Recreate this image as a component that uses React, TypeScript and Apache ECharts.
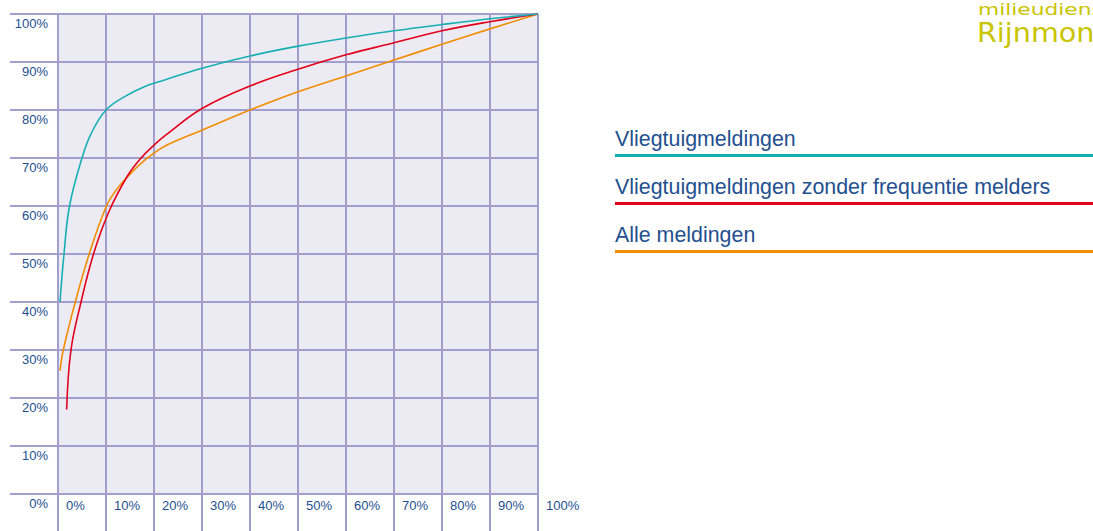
import React, { useEffect, useRef } from "react";
import * as echarts from "echarts";

const seriesNames = [
  "Vliegtuigmeldingen",
  "Vliegtuigmeldingen zonder frequentie melders",
  "Alle meldingen",
];
const seriesColors = ["#17b0b2", "#e3001b", "#f28c00"];

const vliegtuig: [number, number][] = [
  [0.42, 40], [1.25, 50], [2.4, 60], [5, 70], [6.9, 75.1], [10, 80],
  [13.9, 82.8], [18.1, 84.9], [22.2, 86.25], [30, 88.7], [40, 91.25],
  [50, 93.3], [60, 95], [70, 96.5], [80, 97.8], [90, 99], [100, 100],
];
const zonderFreq: [number, number][] = [
  [1.8, 17.6], [2.7, 30], [4.8, 40], [7.4, 50], [10.6, 58.8], [14.5, 66.3],
  [17.3, 70], [20, 72.7], [22.5, 74.8], [30, 80.3], [40, 85], [50, 88.5],
  [60, 91.5], [70, 94], [80, 96.5], [90, 98.4], [100, 100],
];
const alle: [number, number][] = [
  [0.42, 25.7], [1.1, 30], [3.6, 40], [6.5, 50], [10, 59.8], [12.1, 63.3],
  [14.5, 66.1], [17.3, 68.9], [20, 71], [22.5, 72.6], [30, 75.8], [40, 80],
  [50, 83.8], [60, 87.1], [70, 90.4], [80, 93.7], [90, 96.9], [100, 100],
];
const allData = [vliegtuig, zonderFreq, alle];

const gridColor = "#a29ecd";
const textColor = "#24508f";
const logoColor = "#c9c400";

export default function App() {
  const ref = useRef<HTMLDivElement>(null);
  useEffect(() => {
    if (!ref.current) return;
    const chart = echarts.init(ref.current, undefined, { renderer: "svg" });
    const legendGraphics: any[] = [];
    seriesNames.forEach((name, i) => {
      legendGraphics.push({
        type: "text",
        left: 615,
        top: 128 + i * 48,
        style: {
          text: name,
          fill: textColor,
          font: '21.4px "Liberation Sans", Arial, sans-serif',
        },
      });
      legendGraphics.push({
        type: "rect",
        shape: { x: 615, y: 154 + i * 48, width: 478, height: 3 },
        style: { fill: seriesColors[i] },
      });
    });
    chart.setOption({
      animation: false,
      backgroundColor: "#ffffff",
      grid: {
        left: 58,
        top: 14,
        width: 480,
        height: 480,
        show: true,
        backgroundColor: "#ecebf3",
        borderWidth: 0,
      },
      xAxis: {
        type: "value",
        min: 0,
        max: 100,
        interval: 10,
        axisLine: { show: true, lineStyle: { color: gridColor, width: 2 } },
        axisTick: { show: true, length: 37, lineStyle: { color: gridColor, width: 2 } },
        splitLine: { show: true, lineStyle: { color: gridColor, width: 2 } },
        axisLabel: {
          formatter: "{value}%",
          color: textColor,
          fontSize: 13,
          fontFamily: '"Liberation Sans", Arial, sans-serif',
          align: "left",
          padding: [0, 0, 0, 8],
          margin: 5,
          showMinLabel: true,
          showMaxLabel: true,
        },
      },
      yAxis: {
        type: "value",
        min: 0,
        max: 100,
        interval: 10,
        axisLine: { show: true, lineStyle: { color: gridColor, width: 2 } },
        axisTick: { show: true, length: 48, lineStyle: { color: gridColor, width: 2 } },
        splitLine: { show: true, lineStyle: { color: gridColor, width: 2 } },
        axisLabel: {
          formatter: "{value}%",
          color: textColor,
          fontSize: 13,
          fontFamily: '"Liberation Sans", Arial, sans-serif',
          verticalAlign: "top",
          lineHeight: 19,
          margin: 10,
          showMinLabel: true,
          showMaxLabel: true,
        },
      },
      series: allData.map((d, i) => ({
        name: seriesNames[i],
        type: "line",
        data: d,
        smooth: 0.4,
        symbol: "none",
        lineStyle: { color: seriesColors[i], width: 1.6 },
        z: 3 + (2 - i),
      })),
      graphic: [
        ...legendGraphics,
        {
          type: "text",
          x: 978,
          y: 2,
          scaleX: 1.36,
          style: {
            text: "milieudienst",
            fill: logoColor,
            font: '16px "DejaVu Sans", sans-serif',
            textVerticalAlign: "top",
          },
        },
        {
          type: "text",
          x: 977,
          y: 20,
          scaleX: 1.1,
          style: {
            text: "Rijnmond",
            fill: logoColor,
            font: '26px "DejaVu Sans", sans-serif',
            textVerticalAlign: "top",
          },
        },
      ],
    });
    return () => chart.dispose();
  }, []);
  return (
    <div
      ref={ref}
      style={{ position: "fixed", left: 0, top: 0, width: 1093, height: 531 }}
    />
  );
}
